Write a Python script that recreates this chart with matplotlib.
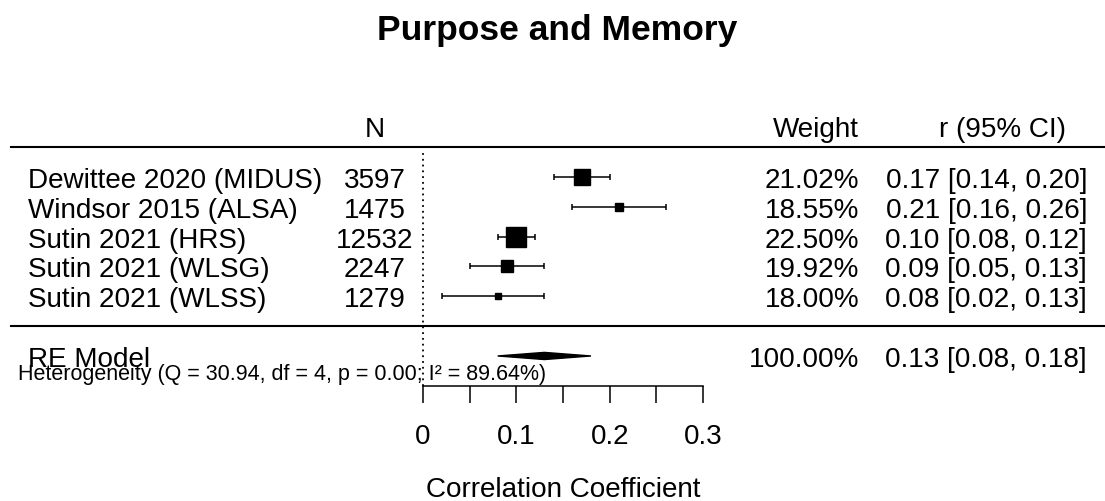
import matplotlib
matplotlib.use('Agg')
import matplotlib.pyplot as plt
import numpy as np

plt.rcParams['font.family'] = ['Liberation Sans', 'DejaVu Sans']

# Data
studies = ['Dewittee 2020 (MIDUS)', 'Windsor 2015 (ALSA)', 'Sutin 2021 (HRS)',
           'Sutin 2021 (WLSG)', 'Sutin 2021 (WLSS)']
n_obs = [3597, 1475, 12532, 2247, 1279]
r_est = [0.17, 0.21, 0.10, 0.09, 0.08]
ci_lo = [0.14, 0.16, 0.08, 0.05, 0.02]
ci_hi = [0.20, 0.26, 0.12, 0.13, 0.13]
weights = [21.02, 18.55, 22.50, 19.92, 18.00]

re_est, re_lo, re_hi, re_weight = 0.13, 0.08, 0.18, 100.00
q_stat, q_df, q_p, i2 = 30.94, 4, 0.00, 89.64

x_ticks = [0, 0.05, 0.1, 0.15, 0.2, 0.25, 0.3]
x_ticklabels = ['0', '', '0.1', '', '0.2', '', '0.3']

k = len(studies)
rows = np.arange(k, 0, -1)

fig = plt.figure(figsize=(11.05, 5.02), dpi=100)
ax = fig.add_axes([0, 0, 1, 1])
# x: 0 sits at 423 px, 0.3 at 703 px ; y: one study row ~ 29.8 px
ax.set_xlim(-0.4532, 0.7307)
ax.set_ylim(-5.862, 10.967)
ax.patch.set_visible(False)
for s in ['top', 'left', 'right']:
    ax.spines[s].set_visible(False)
ax.set_yticks([])

# bottom axis only between 0 and 0.3, at row -2
ax.spines['bottom'].set_position(('data', -2))
ax.spines['bottom'].set_bounds(0, 0.3)
ax.spines['bottom'].set_linewidth(1.1)
ax.set_xticks(x_ticks)
ax.set_xticklabels(x_ticklabels)
ax.tick_params(axis='x', direction='out', length=12, width=1.1, pad=15, labelsize=20)

fs = 20.1
off = 0.335  # baseline offset below the row centre

# header / separator lines
ax.axhline(k + 1, xmin=0.01, xmax=1, color='black', lw=1.5)
ax.axhline(0, xmin=0.01, xmax=1, color='black', lw=1.5)
ax.plot([0, 0], [-2, k + 0.85], color='black', lw=1.3, ls=(0, (1, 2.2)))

# headers
hy = k + 1.6
ax.text(-0.0514, hy, 'N', ha='center', va='center', fontsize=fs)
ax.text(0.4672, hy, 'Weight', ha='right', va='center', fontsize=fs)
ax.text(0.6204, hy, 'r (95% CI)', ha='center', va='center', fontsize=fs)

# study boxes sized by weight
w = np.array(weights)
box = 4.8 + (w - w.min()) / (w.max() - w.min()) * 9.4
for i in range(k):
    y = rows[i]
    ax.errorbar(r_est[i], y, xerr=[[r_est[i] - ci_lo[i]], [ci_hi[i] - r_est[i]]],
                fmt='none', ecolor='black', elinewidth=1.1, capsize=2.5, capthick=1.1)
    ax.plot(r_est[i], y, marker='s', ms=box[i], color='black', mec='black', ls='none')
    ax.text(-0.4232, y - off, studies[i], ha='left', va='baseline', fontsize=fs)
    ax.text(-0.0514, y - off, str(n_obs[i]), ha='center', va='baseline', fontsize=fs)
    ax.text(0.4672, y - off, f'{weights[i]:.2f}%', ha='right', va='baseline', fontsize=fs)
    ax.text(0.7115, y - off, f'{r_est[i]:.2f} [{ci_lo[i]:.2f}, {ci_hi[i]:.2f}]',
            ha='right', va='baseline', fontsize=fs)

# summary diamond
h = 0.12
ax.fill([re_lo, re_est, re_hi, re_est], [-1, -1 + h, -1, -1 - h], color='black', lw=1.0,
        ec='black')
ax.text(-0.4232, -1 - off, 'RE Model', ha='left', va='baseline', fontsize=fs)
ax.text(0.4672, -1 - off, f'{re_weight:.2f}%', ha='right', va='baseline', fontsize=fs)
ax.text(0.7115, -1 - off, f'{re_est:.2f} [{re_lo:.2f}, {re_hi:.2f}]',
        ha='right', va='baseline', fontsize=fs)
ax.text(-0.434, -1.6,
        f'Heterogeneity (Q = {q_stat:.2f}, df = {q_df}, p = {q_p:.2f}; I\u00b2 = {i2:.2f}%)',
        ha='left', va='center', fontsize=15.5)

ax.text(0.15, -5.45, 'Correlation Coefficient', ha='center', va='center', fontsize=fs)
fig.text(0.504, 1 - 40 / 502, 'Purpose and Memory', ha='center', va='baseline',
         fontsize=25.5, fontweight='bold')

fig.savefig('out.png', dpi=100)
